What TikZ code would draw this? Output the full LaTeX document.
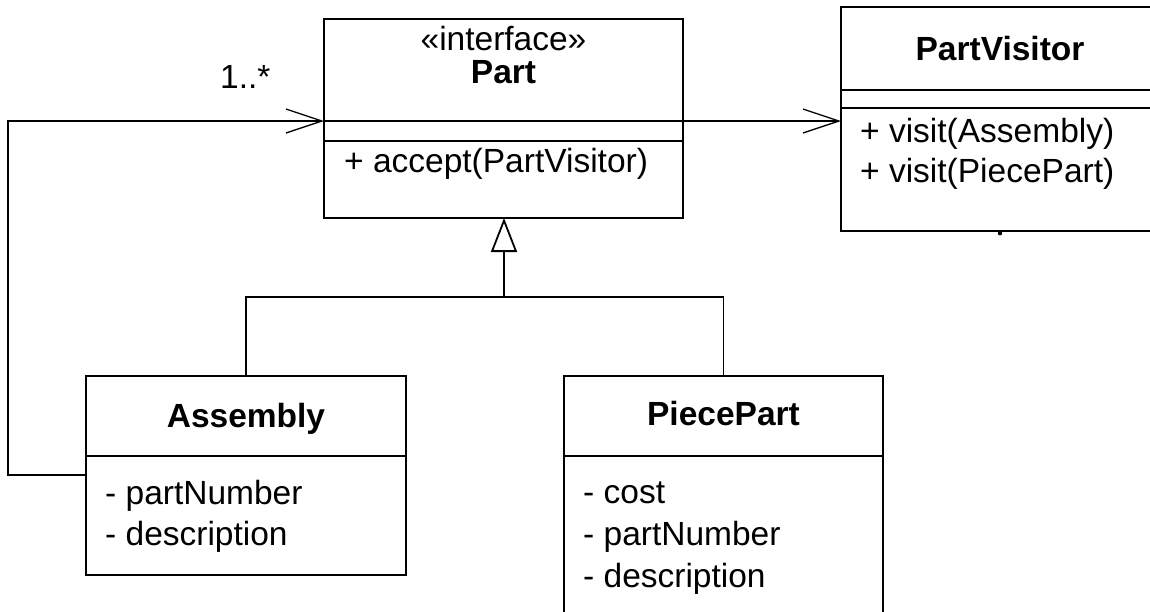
\documentclass[tikz,border=0pt]{standalone}
\usepackage{fontspec}
\setmainfont{Liberation Sans}
\usetikzlibrary{arrows.meta}
\begin{document}
\begin{tikzpicture}[x=1pt,y=-1pt,
  box/.style={draw=black, line width=1.8pt, anchor=north west, inner sep=0pt, outer sep=0pt},
  conn/.style={draw=black, line width=1.3pt},
  txt/.style={inner sep=0pt, font=\fontsize{33.5}{40}\selectfont},
  title/.style={inner sep=0pt, anchor=base, font=\fontsize{33.5}{40}\selectfont\bfseries},
  stereo/.style={txt, anchor=base},
  member/.style={txt, anchor=base west},
  assoc/.style={conn, -{Straight Barb[length=36pt,width=24pt,line width=1.3pt]}},
  gen/.style={conn, -{Triangle[open,length=34pt,width=26pt,fill=white,line width=1.8pt]}}]
\path[use as bounding box, clip] (0,0) rectangle (1150,611);
\fill[white] (0,0) rectangle (1150,611);

% boxes
\node[box, minimum width=359pt, minimum height=199pt] (part) at (324,19) {};
\node[box, minimum width=318pt, minimum height=224pt] (visitor) at (841,7) {};
\node[box, minimum width=320pt, minimum height=199pt] (assembly) at (86,376) {};
\node[box, minimum width=319pt, minimum height=260pt] (piece) at (564,376) {};

% compartments
\draw[conn] (part.west |- 0,121) -- (part.east |- 0,121);
\draw[conn] (part.west |- 0,141) -- (part.east |- 0,141);
\draw[conn] (visitor.west |- 0,90) -- (visitor.east |- 0,90);
\draw[conn] (visitor.west |- 0,108) -- (visitor.east |- 0,108);
\draw[conn] (assembly.west |- 0,456) -- (assembly.east |- 0,456);
\draw[conn] (piece.west |- 0,456) -- (piece.east |- 0,456);

% texts
\node[stereo] (stp) at (503.5,50) {«interface»};
\node[title] (tpart) at (503.5,83) {Part};
\node[member] (macc) at (344,172) {+ accept(PartVisitor)};
\node[title] (tvis) at (1000,60) {PartVisitor};
\node[member] (mv1) at (860,142) {+ visit(Assembly)};
\node[member] (mv2) at (860,182) {+ visit(PiecePart)};
\node[title] (tasm) at (246,427) {Assembly};
\node[member] (ma1) at (105,504) {- partNumber};
\node[member] (ma2) at (105,545) {- description};
\node[title] (tpp) at (723.5,425) {PiecePart};
\node[member] (mp1) at (583,503) {- cost};
\node[member] (mp2) at (583,545) {- partNumber};
\node[member] (mp3) at (583,587) {- description};
\node[member] (mult) at (220,88) {1..*};

% connectors
\draw[assoc] (part.east |- 0,121) -- (visitor.west |- 0,121);
\coordinate (c1) at (8,475);
\coordinate (c2) at (8,121);
\draw[assoc] (assembly.west |- c1) -- (c1) -- (c2) -- (part.west |- c2);
\coordinate (j) at (504,297);
\draw[conn] (assembly.north) -- (assembly.north |- j) -- (piece.north |- j) -- (piece.north);
\draw[gen] (j) -- (j |- part.south);

% small dot below PartVisitor
\fill ([yshift=-2.2pt]visitor.south) circle (2.2pt);
\end{tikzpicture}
\end{document}
